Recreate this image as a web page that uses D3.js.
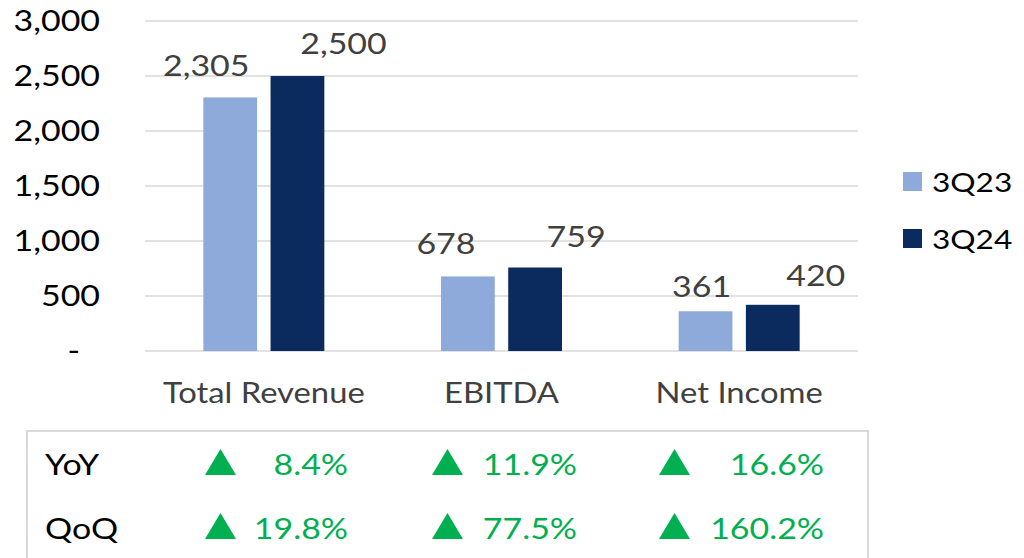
<!DOCTYPE html>
<html>
<head>
<meta charset="utf-8">
<script src="https://cdn.jsdelivr.net/npm/d3@7"></script>
<style>
  body { margin: 0; background: #fff; }
  svg { display: block; font-family: Lato, "Noto Sans", sans-serif; }
</style>
</head>
<body>
<svg id="chart" width="1024" height="558"></svg>
<script>
// chart data
var categories = ["Total Revenue", "EBITDA", "Net Income"];
var seriesNames = ["3Q23", "3Q24"];
var values3Q23 = [2305, 678, 361];
var values3Q24 = [2500, 759, 420];
var yTicks = [0, 500, 1000, 1500, 2000, 2500, 3000];
var rowNames = ["YoY", "QoQ"];
var yoyChange = ["8.4%", "11.9%", "16.6%"];
var qoqChange = ["19.8%", "77.5%", "160.2%"];

// label nudges (moved by hand in the original)
var labelNudge = [
  [[-24, -21], [46, -22]],
  [[-22, -22], [41, -21]],
  [[-4, -14], [43, -19]]
];

var colors = ["#8eaadb", "#0b2a5e"];
var green = "#00b050";
var stretch = 1.17; // the original face is wider than Lato

var svg = d3.select("#chart");
var plot = {left: 145, right: 858, top: 21, bottom: 351};

// place a text by transform so it can be widened
function put(sel, fx, fy) {
  sel.attr("transform", function(d, i) {
    return "translate(" + fx(d, i) + "," + fy(d, i) + ") scale(" + stretch + ",1)";
  });
}

var x = d3.scaleBand()
  .domain(categories)
  .range([plot.left, plot.right]);

var xs = d3.scaleBand()
  .domain(seriesNames)
  .range([x.bandwidth() / 2 - 60.5, x.bandwidth() / 2 + 60.5])
  .paddingInner(0.2);

var y = d3.scaleLinear()
  .domain([0, 3000])
  .range([plot.bottom, plot.top]);

// gridlines
svg.append("g")
  .selectAll("line")
  .data(yTicks)
  .enter().append("line")
  .attr("x1", plot.left)
  .attr("x2", plot.right)
  .attr("y1", function(d) { return y(d); })
  .attr("y2", function(d) { return y(d); })
  .attr("stroke", "#d9d9d9")
  .attr("stroke-width", 1.6);

// y axis labels
var fmt = d3.format(",");
svg.append("g")
  .selectAll("text")
  .data(yTicks)
  .enter().append("text")
  .attr("dy", "0.36em")
  .attr("text-anchor", "end")
  .attr("fill", "#000")
  .style("font-size", "29px")
  .text(function(d) { return d === 0 ? "-" : fmt(d); })
  .call(put, function(d) { return d === 0 ? 80 : 100; }, function(d) { return y(d); });

// bars
var rows = categories.map(function(c, i) {
  return {cat: c, i: i, vals: [values3Q23[i], values3Q24[i]]};
});

var groups = svg.append("g")
  .selectAll("g")
  .data(rows)
  .enter().append("g")
  .attr("transform", function(d) { return "translate(" + x(d.cat) + ",0)"; });

function cells(d) {
  return d.vals.map(function(v, k) { return {s: seriesNames[k], k: k, v: v, i: d.i}; });
}

groups.selectAll("rect")
  .data(cells)
  .enter().append("rect")
  .attr("x", function(d) { return xs(d.s); })
  .attr("width", xs.bandwidth())
  .attr("y", function(d) { return y(d.v); })
  .attr("height", function(d) { return y(0) - y(d.v); })
  .attr("fill", function(d) { return colors[d.k]; });

groups.selectAll("text")
  .data(cells)
  .enter().append("text")
  .attr("text-anchor", "middle")
  .attr("fill", "#404040")
  .style("font-size", "29px")
  .text(function(d) { return fmt(d.v); })
  .call(put,
    function(d) { return xs(d.s) + xs.bandwidth() / 2 + labelNudge[d.i][d.k][0]; },
    function(d) { return y(d.v) + labelNudge[d.i][d.k][1]; });

// category labels
svg.append("g")
  .selectAll("text")
  .data(categories)
  .enter().append("text")
  .attr("text-anchor", "middle")
  .attr("fill", "#404040")
  .style("font-size", "28px")
  .text(function(d) { return d; })
  .call(put, function(d) { return x(d) + x.bandwidth() / 2; }, function() { return 403; });

// legend
var legend = svg.append("g")
  .selectAll("g")
  .data(seriesNames)
  .enter().append("g")
  .attr("transform", function(d, i) { return "translate(903," + (172 + i * 57) + ")"; });

legend.append("rect")
  .attr("width", 19)
  .attr("height", 19)
  .attr("fill", function(d, i) { return colors[i]; });

legend.append("text")
  .attr("fill", "#000")
  .style("font-size", "27px")
  .text(function(d) { return d; })
  .call(put, function() { return 29; }, function() { return 19.5; });

// change table
svg.append("rect")
  .attr("x", 27)
  .attr("y", 431)
  .attr("width", 841)
  .attr("height", 140)
  .attr("fill", "none")
  .attr("stroke", "#d9d9d9")
  .attr("stroke-width", 2);

var rowY = [475, 539];
var changes = [yoyChange, qoqChange];
var triX = [205, 432, 659];
var pctRight = [348, 577, 824];

rowNames.forEach(function(name, r) {
  svg.append("text")
    .datum(name)
    .attr("fill", "#000")
    .style("font-size", "29px")
    .text(name)
    .call(put, function() { return 45; }, function() { return rowY[r]; });

  var row = svg.append("g");

  row.selectAll("path")
    .data(changes[r])
    .enter().append("path")
    .attr("transform", function(d, i) { return "translate(" + triX[i] + "," + rowY[r] + ")"; })
    .attr("d", "M0,0 L31,0 L15.5,-26 Z")
    .attr("fill", green);

  row.selectAll("text")
    .data(changes[r])
    .enter().append("text")
    .attr("text-anchor", "end")
    .attr("fill", green)
    .style("font-size", "29px")
    .text(function(d) { return d; })
    .call(put, function(d, i) { return pctRight[i]; }, function() { return rowY[r]; });
});
</script>
</body>
</html>
